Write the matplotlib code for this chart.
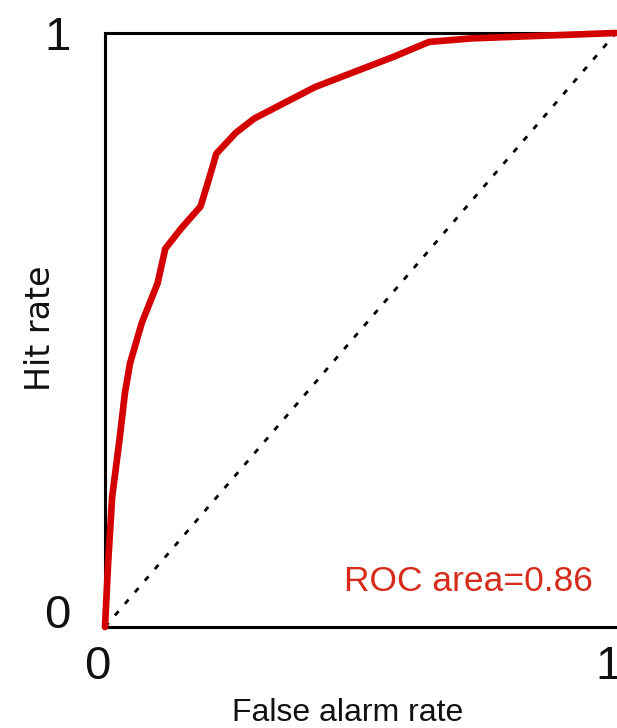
import matplotlib
matplotlib.use("Agg")
import matplotlib.pyplot as plt
from matplotlib.transforms import ScaledTranslation

# ROC curve
far = [0.0, 0.006, 0.014, 0.029, 0.039, 0.049, 0.072, 0.103, 0.118, 0.150, 0.187, 0.203,
       0.218, 0.256, 0.292, 0.411, 0.565, 0.634, 0.718, 1.0]
hit = [0.0, 0.106, 0.219, 0.320, 0.394, 0.444, 0.512, 0.579, 0.637, 0.672, 0.708, 0.753,
       0.797, 0.832, 0.856, 0.909, 0.960, 0.985, 0.991, 1.0]
chance = [0, 1]
ticks = [0, 1]
tick_labels = ["0", "1"]
roc_area = 0.86

fonts = ["Liberation Sans Narrow", "Liberation Sans", "DejaVu Sans"]

fig = plt.figure(figsize=(6.17, 7.28), dpi=100)
ax = fig.add_axes([105 / 617, 101 / 728, 511 / 617, 594 / 728])

ax.plot(chance, chance, color="black", lw=2.0, ls=(0, (2.0, 3.5)), zorder=3)
ax.plot(far, hit, color="#d40000", lw=4.8, solid_joinstyle="round",
        solid_capstyle="round", clip_on=False, zorder=4)

ax.set_xlim(0, 1)
ax.set_ylim(0, 1)

for side in ["left", "bottom", "top"]:
    ax.spines[side].set_linewidth(2.2)
    ax.spines[side].set_color("black")
ax.spines["right"].set_visible(False)

ax.set_xticks(ticks)
ax.set_xticklabels(tick_labels, fontfamily=fonts, fontsize=34, color="#111111")
ax.set_yticks(ticks)
ax.set_yticklabels(tick_labels, fontfamily=fonts, fontsize=34, color="#111111")
ax.tick_params(axis="x", length=0, pad=13)
ax.tick_params(axis="y", length=0, pad=25)

# small nudges of the tick labels as in the original
for lab in ax.get_xticklabels():
    lab.set_transform(lab.get_transform() + ScaledTranslation(-0.08, 0, fig.dpi_scale_trans))
ylabs = ax.get_yticklabels()
ylabs[0].set_transform(ylabs[0].get_transform() + ScaledTranslation(0, 0.16, fig.dpi_scale_trans))

fig.text(40 / 617, 1 - 328 / 728, "Hit rate", rotation=90, ha="center", va="center",
         fontsize=24, family="DejaVu Sans", color="#111111")
fig.text(348 / 617, 1 - 713 / 728, "False alarm rate", ha="center", va="center",
         fontsize=23, family=fonts, color="#111111")

ax.text(0.955, 0.076, f"ROC area={roc_area}", transform=ax.transAxes, ha="right",
        va="center", color="#d62a1a", fontsize=25.5, family=fonts)

fig.savefig("out.png", dpi=100)
